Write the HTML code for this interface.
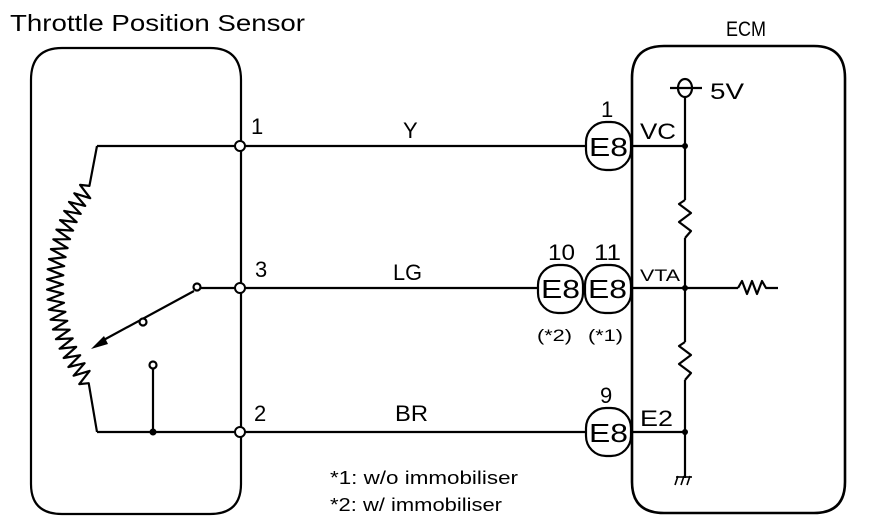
<!DOCTYPE html>
<html><head><style>
html,body{margin:0;padding:0;background:#fff;}
svg{display:block;}
text{font-family:"Liberation Sans",Arial,sans-serif;fill:#000;}
</style></head><body>
<svg id="s" width="880" height="532" viewBox="0 0 880 532" xmlns="http://www.w3.org/2000/svg">
<g fill="none" stroke="#000" stroke-width="2.2" stroke-linejoin="round">
<path d="M62 48 H210 Q241 48 241 80 V484 Q241 514 210 514 H62 Q31 514 31 484 V80 Q31 48 62 48 Z"/>
<path d="M664 46 H814 Q845 46 845 78 V482 Q845 513 814 513 H664 Q632 513 632 482 V78 Q632 46 664 46 Z" stroke-width="2.6"/>
<line x1="97" y1="146" x2="586" y2="146"/>
<line x1="197" y1="288" x2="538" y2="288"/>
<line x1="97" y1="432" x2="586" y2="432"/>
<polyline id="zz" points=""/>
<line x1="194" y1="291" x2="100" y2="342"/>
<circle cx="143" cy="322" r="3.5" fill="#fff"/>
<line x1="153" y1="369" x2="153" y2="432"/>
<circle cx="153" cy="365" r="3.5" fill="#fff"/>
<circle cx="197" cy="287" r="3.5" fill="#fff"/>
<rect x="586" y="122" width="45" height="48" rx="20" fill="#fff"/>
<rect x="538" y="265" width="45" height="48" rx="20" fill="#fff"/>
<rect x="585" y="265" width="46" height="48" rx="20" fill="#fff"/>
<rect x="586" y="408" width="45" height="48" rx="20" fill="#fff"/>
<line x1="632" y1="146" x2="685" y2="146"/>
<line x1="632" y1="288" x2="738" y2="288"/>
<line x1="632" y1="432" x2="685" y2="432"/>
<line x1="685" y1="97" x2="685" y2="200"/>
<polyline points="685,200 679,204 691,213 679,222 691,231 685,238"/>
<line x1="685" y1="238" x2="685" y2="342"/>
<polyline points="685,342 679,346 691,355 679,364 691,373 685,380"/>
<line x1="685" y1="380" x2="685" y2="478"/>
<polyline points="738,288 742,281 747,294 752,281 757,294 762,281 766,288 778,288"/>
<ellipse cx="685" cy="88" rx="7" ry="9" fill="#fff"/>
<line x1="670" y1="88" x2="702" y2="88"/>
<line x1="678" y1="476" x2="675" y2="485" stroke-width="1.6"/>
<line x1="684" y1="476" x2="681" y2="485" stroke-width="1.6"/>
<line x1="690" y1="476" x2="687" y2="485" stroke-width="1.6"/>
<line x1="676" y1="477" x2="692" y2="477" stroke-width="1.6"/>
</g>
<g fill="#fff" stroke="#000" stroke-width="2">
<circle cx="240" cy="146" r="5"/>
<circle cx="240" cy="288" r="5"/>
<circle cx="240" cy="432" r="5"/>
</g>
<g fill="#000">
<circle cx="153" cy="432" r="3.5"/>
<circle cx="685" cy="146" r="3"/>
<circle cx="685" cy="288" r="3"/>
<circle cx="685" cy="432" r="3"/>
<polygon points="91,349 104,336 108,344"/>
</g>
<text x="10" y="31" font-size="23" textLength="295" lengthAdjust="spacingAndGlyphs">Throttle Position Sensor</text>
<text x="726" y="36" font-size="21" textLength="40" lengthAdjust="spacingAndGlyphs">ECM</text>
<text x="710" y="99" font-size="22" textLength="34" lengthAdjust="spacingAndGlyphs">5V</text>
<text x="251" y="134" font-size="22">1</text>
<text x="255" y="277" font-size="22">3</text>
<text x="254" y="421" font-size="22">2</text>
<text x="403" y="138" font-size="22">Y</text>
<text x="393" y="280" font-size="22" textLength="29" lengthAdjust="spacingAndGlyphs">LG</text>
<text x="395" y="421" font-size="22" textLength="33" lengthAdjust="spacingAndGlyphs">BR</text>
<text x="601" y="117" font-size="22">1</text>
<text x="548" y="260" font-size="22" textLength="27" lengthAdjust="spacingAndGlyphs">10</text>
<text x="594" y="260" font-size="22" textLength="27" lengthAdjust="spacingAndGlyphs">11</text>
<text x="600" y="403" font-size="22">9</text>
<text x="589" y="156" font-size="26" textLength="39" lengthAdjust="spacingAndGlyphs">E8</text>
<text x="541" y="298" font-size="26" textLength="39" lengthAdjust="spacingAndGlyphs">E8</text>
<text x="588" y="298" font-size="26" textLength="39" lengthAdjust="spacingAndGlyphs">E8</text>
<text x="589" y="442" font-size="26" textLength="39" lengthAdjust="spacingAndGlyphs">E8</text>
<text x="640" y="139" font-size="22" textLength="36" lengthAdjust="spacingAndGlyphs">VC</text>
<text x="640" y="281" font-size="17" textLength="40" lengthAdjust="spacingAndGlyphs">VTA</text>
<text x="640" y="426" font-size="22" textLength="33" lengthAdjust="spacingAndGlyphs">E2</text>
<text x="537" y="341" font-size="17" textLength="35" lengthAdjust="spacingAndGlyphs">(*2)</text>
<text x="588" y="341" font-size="17" textLength="35" lengthAdjust="spacingAndGlyphs">(*1)</text>
<text x="330" y="484" font-size="18" textLength="188" lengthAdjust="spacingAndGlyphs">*1: w/o immobiliser</text>
<text x="330" y="511" font-size="18" textLength="172" lengthAdjust="spacingAndGlyphs">*2: w/ immobiliser</text>
</svg>
<script>
(function(){
var cx=215,cy=285,r=160,pts=[];
var a0=Math.atan2(180-cy,82-cx),a1=Math.atan2(390-cy,80-cx);
if(a0<0)a0+=Math.PI*2;
if(a1<0)a1+=Math.PI*2;
var n=44;
for(var i=0;i<=n;i++){var a=a0+(a1-a0)*i/n;var rr=r+(i==0||i==n?0:(i%2?8:-8));
pts.push((cx+rr*Math.cos(a)).toFixed(1)+","+(cy+rr*Math.sin(a)).toFixed(1));}
pts.unshift("97,146");pts.push("97,432");
document.getElementById("zz").setAttribute("points",pts.join(" "));
})();
</script>
</body></html>
